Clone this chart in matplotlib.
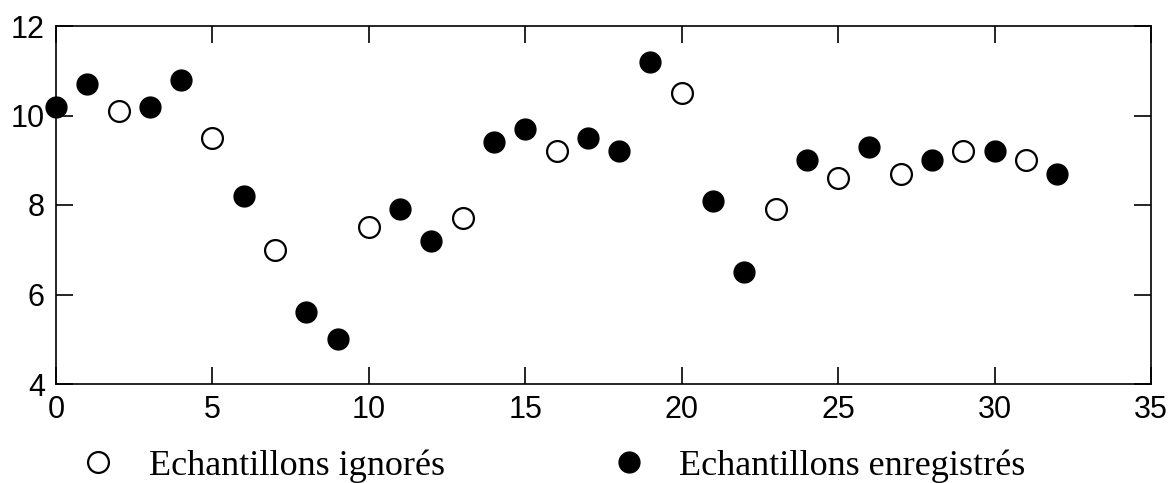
import matplotlib
matplotlib.use("Agg")
import matplotlib.pyplot as plt

idx = list(range(33))
vals = [10.2, 10.7, 10.1, 10.2, 10.8, 9.5, 8.2, 7.0, 5.6, 5.0,
        7.5, 7.9, 7.2, 7.7, 9.4, 9.7, 9.2, 9.5, 9.2, 11.2,
        10.5, 8.1, 6.5, 7.9, 9.0, 8.6, 9.3, 8.7, 9.0, 9.2,
        9.2, 9.0, 8.7]
ignored = [2, 5, 7, 10, 13, 16, 20, 23, 25, 27, 29, 31]

x_ign = [i for i in idx if i in ignored]
y_ign = [vals[i] for i in x_ign]
x_rec = [i for i in idx if i not in ignored]
y_rec = [vals[i] for i in x_rec]

xticks = [0, 5, 10, 15, 20, 25, 30, 35]
yticks = [4, 6, 8, 10, 12]

fig = plt.figure(figsize=(11.76, 4.83), dpi=100)
ax = fig.add_axes([56/1176, 1-384/483, (1151-56)/1176, (384-26)/483])

l1, = ax.plot(x_ign, y_ign, 'o', ms=15, mfc='white', mec='black', mew=1.6,
              linestyle='none', clip_on=False, zorder=3)
l2, = ax.plot(x_rec, y_rec, 'o', ms=15, mfc='black', mec='black',
              linestyle='none', clip_on=False, zorder=3)

ax.set_xlim(0, 35)
ax.set_ylim(4, 12)
ax.set_xticks(xticks)
ax.set_yticks(yticks)
ax.tick_params(direction='in', length=12, width=1.2, top=True, right=True,
               labelsize=22, pad=8, colors='black')
for lab in ax.get_xticklabels() + ax.get_yticklabels():
    lab.set_family('Liberation Sans')
for s in ax.spines.values():
    s.set_linewidth(1.2)
    s.set_color('black')

leg = fig.legend([l1, l2], ['Echantillons ignorés', 'Echantillons enregistrés'],
                 loc='lower left', bbox_to_anchor=(80/1176, 0), ncol=2,
                 frameon=False, handlelength=1.0, handletextpad=0.9,
                 columnspacing=4.6, borderpad=0, borderaxespad=0,
                 prop={'family': 'Liberation Serif', 'size': 26})

fig.savefig('out.png', dpi=100)
